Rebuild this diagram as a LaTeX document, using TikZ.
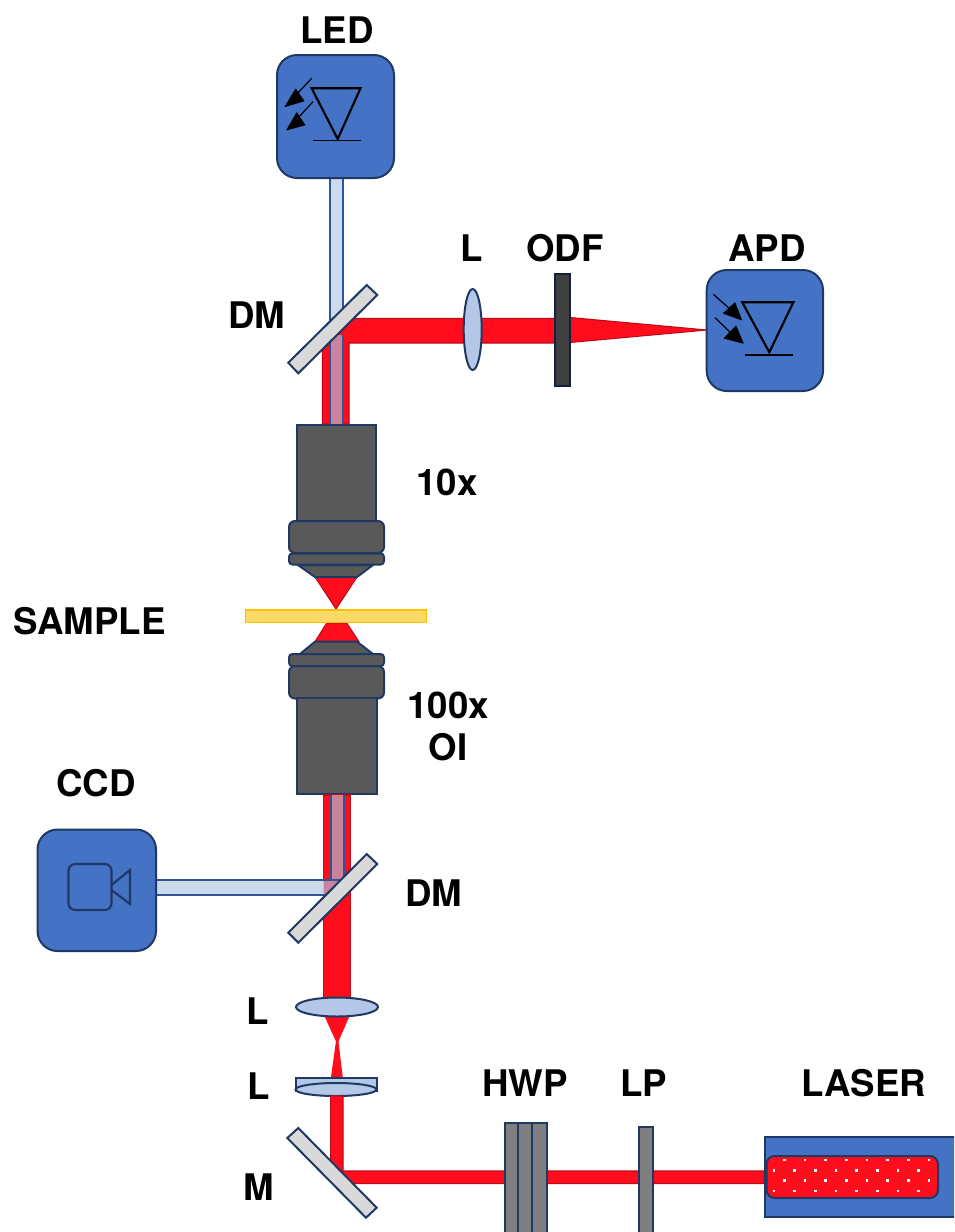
\documentclass[tikz,border=0pt]{standalone}
\usepackage{fontspec}
\setmainfont{TeX Gyre Heros}
\definecolor{boxblue}{HTML}{4472C4}
\definecolor{navy}{HTML}{203864}
\definecolor{beamred}{HTML}{FF0D1D}
\definecolor{beamedge}{HTML}{C00A18}
\definecolor{ledfill}{HTML}{CCDAEC}
\definecolor{ledline}{HTML}{2F5597}
\definecolor{pinkfill}{HTML}{C9839A}
\definecolor{lensfill}{HTML}{B4C7E7}
\definecolor{objgrey}{HTML}{595959}
\definecolor{mirgrey}{HTML}{D9D9D9}
\definecolor{wpgrey}{HTML}{7F7F7F}
\definecolor{samplefill}{HTML}{FFD966}
\definecolor{sampleline}{HTML}{FFC000}
\tikzset{
  lab/.style={font=\fontsize{27.5}{33}\selectfont\bfseries,inner sep=0pt,text=black},
  boxs/.style={draw=navy,line width=1.5pt,fill=boxblue,rounded corners=15pt},
  beam/.style={fill=beamred,draw=beamedge,line width=.8pt},
  ledb/.style={fill=ledfill,draw=ledline,line width=1.5pt},
  obj/.style={fill=objgrey,draw=navy,line width=1.5pt},
  objr/.style={obj,rounded corners=4.5pt},
  mirror/.style={fill=mirgrey,draw=navy,line width=1.5pt,line join=miter},
  lens/.style={fill=lensfill,draw=navy,line width=1.5pt},
  plate/.style={fill=wpgrey,draw=navy,line width=1.5pt},
  sym/.style={draw=black,line width=1.6pt,line join=miter},
  thinl/.style={draw=black,line width=.9pt},
  head/.style={fill=black,draw=black,line width=.5pt,line join=round},
  cam/.style={draw=navy,line width=1.6pt}
}
\begin{document}
\begin{tikzpicture}[x=.75pt,y=-.75pt]
\useasboundingbox (0,0) rectangle (954,1232);
\clip (0,0) rectangle (954,1232);
\fill[white] (0,0) rectangle (954,1232);

% top branch beams
\draw[ledb] (329.5,178) rectangle (342.5,325);
\draw[beam] (322.5,350) -- (354,318.5) -- (555,318.5) -- (555,343) -- (349,343) -- (349,424) -- (322.5,424) -- cycle;
\fill[pinkfill] (329.5,335) rectangle (342.5,424);
\draw[ledline,line width=1.5pt] (329.5,335) -- (329.5,424) (342.5,335) -- (342.5,424);
\draw[beam] (570,317.5) -- (707,330) -- (570,342.5) -- cycle;

% top mirror
\draw[mirror] (366.7,285) -- (377.3,295) -- (298.3,373.3) -- (288.3,362.7) -- cycle;

% lens + ODF
\draw[lens] (472.7,329.5) ellipse (9 and 40.5);
\fill[black!75] (554.5,273.5) rectangle (570,386);
\draw[navy!60!black,line width=1.5pt] (554.5,273.5) rectangle (570,386);

% LED
\draw[boxs] (277,55) rectangle (394,178);
\draw[sym] (311.7,88.3) -- (360.5,88.3) -- (337.7,139) -- cycle;
\draw[thinl,line width=1.2pt] (313,140.3) -- (361,140.3);
\draw[thinl] (311.7,78.3) -- (295,96);
\draw[head] (285,106.7) -- (295.7,89) -- (304,101) -- cycle;
\draw[thinl] (313,101.7) -- (297,119);
\draw[head] (286.7,130) -- (296.7,112.7) -- (305,125) -- cycle;

% APD
\draw[boxs] (706.7,270) rectangle (823,391);
\draw[sym] (742.3,302.3) -- (793.3,302.3) -- (769.3,352.3) -- cycle;
\draw[thinl,line width=1.2pt] (745,354.7) -- (793.3,354.7);
\draw[thinl] (713.3,294.3) -- (730,309);
\draw[head] (741.7,320) -- (735,302.7) -- (723.3,313.3) -- cycle;
\draw[thinl] (715,317.7) -- (731,333);
\draw[head] (743.3,343.3) -- (736,326) -- (724,338.3) -- cycle;

% upper objective
\draw[beam] (315,577) -- (357,577) -- (336,609) -- cycle;
\draw[obj] (298,565) -- (373,565) -- (357,577) -- (315,577) -- cycle;
\draw[obj] (297,424.5) rectangle (376,522);
\draw[objr] (289,521) rectangle (384,553);
\draw[objr,rounded corners=2.5pt] (289,553.5) rectangle (384,564.5);

% lower objective
\draw[beam] (326.7,623) -- (346.7,623) -- (359,641.7) -- (315,641.7) -- cycle;
\draw[obj] (315,641.7) -- (357,641.7) -- (373,654) -- (300,654) -- cycle;
\draw[objr,rounded corners=2.5pt] (289,654) rectangle (384,666);
\draw[objr] (289,666) rectangle (384,698.5);
\draw[obj] (297,698) rectangle (377,794);

% sample
\draw[fill=samplefill,draw=sampleline,line width=1.4pt] (245.5,610) rectangle (426.5,622.5);

% lower path beams
\draw[beam] (323.5,795) rectangle (350.5,1000);
\fill[pinkfill] (330.5,795) rectangle (343.5,880);
\draw[ledline,line width=1.5pt] (330.5,795) -- (330.5,880) (343.5,795) -- (343.5,880);
\fill[ledfill] (156,880) rectangle (323.5,894.5);
\fill[pinkfill] (323.5,880) -- (345,880) -- (330,894.5) -- (323.5,894.5) -- cycle;
\draw[ledline,line width=1.5pt] (156,880) -- (345,880) (156,894.5) -- (330,894.5);

% lower DM
\draw[mirror] (366.7,854) -- (377.3,864) -- (298.3,942.7) -- (288.3,932.7) -- cycle;

% CCD
\draw[boxs] (37.5,829.5) rectangle (156,951);
\draw[cam,rounded corners=5pt] (68.5,864) rectangle (111.5,910);
\draw[cam,line join=miter] (111.5,885) -- (130,870) -- (130,904) -- (111.5,890);

% telescope
\fill[beamred] (324,1015) -- (350,1015) -- (338.2,1042) -- (336.2,1042) -- cycle;
\fill[beamred] (336,1041) -- (338.4,1041) -- (343,1079) -- (330.7,1079) -- cycle;
\draw[lens] (337,1007) ellipse (41 and 9.5);
\draw[lens] (295.5,1078) rectangle (376.5,1091);
\draw[lens] (336,1089.5) ellipse (40.5 and 6.5);

% input beam
\draw[beam] (330.7,1096) -- (343,1096) -- (343,1171) -- (765,1171) -- (765,1183.5) -- (350,1183.5) -- (330.7,1165) -- cycle;

% M
\draw[mirror] (298.3,1128) -- (287.3,1138) -- (366,1217.7) -- (376.7,1207.7) -- cycle;

% plates
\draw[plate] (504.5,1122.5) rectangle (518.3,1240);
\draw[plate] (518.3,1122.5) rectangle (531.7,1240);
\draw[plate] (531.7,1122.5) rectangle (546.5,1240);
\draw[plate] (638.5,1126.5) rectangle (652.5,1240);

% laser
\draw[fill=boxblue,draw=navy,line width=1.5pt] (765,1136.5) rectangle (970,1217);
\draw[fill=beamred,draw=navy,line width=1.5pt,rounded corners=6pt] (766.5,1156) rectangle (938,1198);
\foreach \k in {0,...,7}{
  \fill[white] ({784.3+20.67*\k-1.3},1158.7) rectangle ++(2.6,2.6);
  \fill[white] ({774+20.67*\k-1.3},1169) rectangle ++(2.6,2.6);
  \fill[white] ({784.3+20.67*\k-1.3},1179.4) rectangle ++(2.6,2.6);
  \fill[white] ({774+20.67*\k-1.3},1189.7) rectangle ++(2.6,2.6);
}

% labels
\node[lab] (tLED) at (337,30) {LED};
\node[lab] (tL1) at (472,248) {L};
\node[lab] (tODF) at (565,248) {ODF};
\node[lab] (tAPD) at (767,248) {APD};
\node[lab] (tDM1) at (257,315) {DM};
\node[lab] (t10x) at (447,482) {10x};
\node[lab] (tS) at (89.5,621) {SAMPLE};
\node[lab] (t100) at (448,705) {100x};
\node[lab] (tOI) at (448,747) {OI};
\node[lab] (tCCD) at (96,783) {CCD};
\node[lab] (tDM2) at (434,893) {DM};
\node[lab] (tL2) at (258,1011) {L};
\node[lab] (tL3) at (259,1086) {L};
\node[lab] (tHWP) at (525,1083) {HWP};
\node[lab] (tLP) at (644,1083) {LP};
\node[lab] (tLAS) at (864,1083) {LASER};
\node[lab] (tM) at (259,1187) {M};
\end{tikzpicture}
\end{document}
